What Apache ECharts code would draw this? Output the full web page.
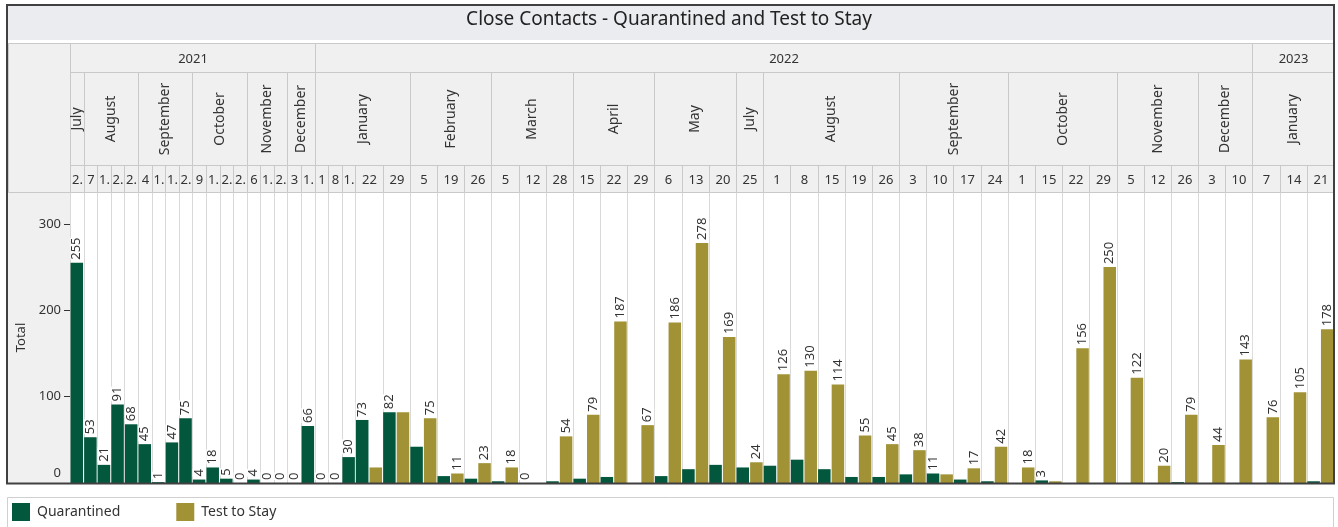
<!DOCTYPE html>
<html>
<head>
<meta charset="utf-8">
<script src="https://cdn.jsdelivr.net/npm/echarts@6/dist/echarts.min.js"></script>
<style>
html,body{margin:0;padding:0;background:#fff}
#main{width:1338px;height:527px}
</style>
</head>
<body>
<div id="main"></div>
<script>
// months shown in the header, with their year and how many weeks each holds
var monthNames = ['July','August','September','October','November','December',
  'January','February','March','April','May','July','August','September','October','November','December',
  'January'];
var monthYears = [2021,2021,2021,2021,2021,2021,
  2022,2022,2022,2022,2022,2022,2022,2022,2022,2022,2022,
  2023];
var monthWeeks = [1,4,4,4,3,2, 5,3,3,3,3,1,5,4,4,3,2, 3];

// week labels as shown (narrow columns are cut off)
var weekLabels = ['2.',
  '7','1.','2.','2.',
  '4','1.','1.','2.',
  '9','1.','2.','2.',
  '6','1.','2.',
  '3','1.',
  '1','8','1.','22','29',
  '5','19','26',
  '5','12','28',
  '15','22','29',
  '6','13','20',
  '25',
  '1','8','15','19','26',
  '3','10','17','24',
  '1','15','22','29',
  '5','12','26',
  '3','10',
  '7','14','21'];

var quarantined = [255,
  53,21,91,68,
  45,1,47,75,
  4,18,5,0,
  4,0,0,
  0,66,
  0,0,30,73,82,
  42,8,5,
  2,0,2,
  5,7,0,
  8,16,21,
  18,
  20,27,16,7,7,
  10,11,4,2,
  0,3,0,0,
  0,0,1,
  0,0,
  0,0,2];

var testToStay = [null,
  null,null,null,null,
  null,null,null,null,
  null,null,null,null,
  null,null,null,
  null,null,
  null,null,null,18,82,
  75,11,23,
  18,0,54,
  79,187,67,
  186,278,169,
  24,
  126,130,114,55,45,
  38,10,17,42,
  18,2,156,250,
  122,20,79,
  44,143,
  76,105,178];

var colorQ = '#03573c', colorT = '#a29236';
var fontName = '"Noto Sans", "Open Sans", sans-serif';

// each week takes one slot (Quarantined only) or two slots (both series)
var weekStart = [], weekSlots = [], slotCount = 0;
for (var i = 0; i < weekLabels.length; i++) {
  var n = testToStay[i] === null ? 1 : 2;
  weekStart.push(slotCount);
  weekSlots.push(n);
  slotCount += n;
}
var slotNames = [], qData = [], tData = [];
for (var s = 0; s < slotCount; s++) { slotNames.push('s' + s); qData.push(null); tData.push(null); }
var bounds = [];
for (var i = 0; i < weekLabels.length; i++) {
  var showQ = testToStay[i] === null || quarantined[i] >= testToStay[i];
  qData[weekStart[i]] = {value: quarantined[i], label: {show: showQ}};
  if (weekSlots[i] == 2) tData[weekStart[i] + 1] = {value: testToStay[i], label: {show: !showQ}};
  bounds.push([weekStart[i]]);
}
bounds.push([slotCount]);

// header cells: [x0, x1, y0, y1] in header units
var rowYear = [0, 28.5], rowMonth = [28.5, 122], rowWeek = [122, 149];
var cells = [], cellText = [], cellRot = [];
for (var i = 0; i < weekLabels.length; i++) {
  cells.push([weekStart[i], weekStart[i] + weekSlots[i], rowWeek[0], rowWeek[1]]);
  cellText.push(weekLabels[i]); cellRot.push(0);
}
var w = 0, monthStart = [], monthEnd = [];
for (var m = 0; m < monthNames.length; m++) {
  var first = w, last = w + monthWeeks[m] - 1;
  monthStart.push(weekStart[first]);
  monthEnd.push(weekStart[last] + weekSlots[last]);
  cells.push([monthStart[m], monthEnd[m], rowMonth[0], rowMonth[1]]);
  cellText.push(monthNames[m]); cellRot.push(1);
  w += monthWeeks[m];
}
var m0 = 0;
for (var m = 1; m <= monthNames.length; m++) {
  if (m == monthNames.length || monthYears[m] != monthYears[m0]) {
    cells.push([monthStart[m0], monthEnd[m - 1], rowYear[0], rowYear[1]]);
    cellText.push(String(monthYears[m0])); cellRot.push(0);
    m0 = m;
  }
}

var yMax = 337;

function renderHeader(params, api) {
  var p0 = api.coord([api.value(0), api.value(2)]);
  var p1 = api.coord([api.value(1), api.value(3)]);
  var x = Math.round(Math.min(p0[0], p1[0])) + 0.5, y = Math.round(Math.min(p0[1], p1[1])) + 0.5;
  var x2 = Math.round(Math.max(p0[0], p1[0])) + 0.5, y2 = Math.round(Math.max(p0[1], p1[1])) + 0.5;
  var i = params.dataIndex;
  return {
    type: 'group',
    children: [
      {type: 'rect', shape: {x: x, y: y, width: x2 - x, height: y2 - y},
        style: {fill: '#f0f0f0', stroke: '#c9c9c9', lineWidth: 1}},
      {type: 'text', x: (x + x2) / 2, y: (y + y2) / 2 + (cellRot[i] ? 0 : 1),
        rotation: cellRot[i] ? Math.PI / 2 : 0,
        style: {text: cellText[i], fill: '#333', font: (cellRot[i] ? '14px ' : '13px ') + fontName,
          align: 'center', verticalAlign: 'middle'}}
    ]
  };
}

function renderSep(params, api) {
  var p0 = api.coord([api.value(0), 0]);
  var p1 = api.coord([api.value(0), yMax]);
  var x = Math.round(p0[0]) + 0.5;
  return {type: 'line', shape: {x1: x, y1: p1[1], x2: x, y2: p0[1]},
    style: {stroke: '#d9d9d9', lineWidth: 1}};
}

var myChart = echarts.init(document.getElementById('main'));
var barLabel = {
  position: 'top', rotate: 90, align: 'left', verticalAlign: 'middle', distance: 3,
  fontSize: 13, fontFamily: fontName, color: '#333', backgroundColor: '#fff',
  formatter: '{c}'
};
var option = {
  animation: false,
  textStyle: {fontFamily: fontName},
  graphic: [
    {type: 'rect', z: -10, shape: {x: 7, y: 5, width: 1327, height: 479}, style: {fill: '#f0f0f0'}},
    {type: 'rect', z: -9, shape: {x: 8, y: 6, width: 1325, height: 34}, style: {fill: '#ebecf0'}},
    {type: 'rect', z: -9, shape: {x: 8, y: 40, width: 1325, height: 3}, style: {fill: '#fff'}},
    {type: 'rect', z: -8, shape: {x: 8.5, y: 43.5, width: 62, height: 149}, style: {fill: '#f0f0f0', stroke: '#c9c9c9'}},
    {type: 'text', z: 5, left: 'center', top: 10,
      style: {text: 'Close Contacts - Quarantined and Test to Stay', font: '19px ' + fontName, fill: '#222'}},
    {type: 'rect', z: 50, shape: {x: 7, y: 5, width: 1327, height: 478.5},
      style: {fill: 'none', stroke: '#404040', lineWidth: 2}},
    {type: 'rect', z: -10, shape: {x: 7.5, y: 497.5, width: 1326, height: 32},
      style: {fill: '#fff', stroke: '#d0d0d0', lineWidth: 1}}
  ],
  legend: {
    left: 12, top: 503, padding: 0, itemWidth: 18, itemHeight: 18, itemGap: 56,
    icon: 'rect', textStyle: {fontSize: 14, color: '#333', fontFamily: fontName, padding: [0, 0, 0, 2]},
    data: ['Quarantined', 'Test to Stay']
  },
  grid: [
    {left: 70, right: 4, top: 43, height: 149},
    {left: 70, right: 4, top: 192, bottom: 44, show: true, backgroundColor: '#fff', borderWidth: 0}
  ],
  xAxis: [
    {gridIndex: 0, type: 'value', min: 0, max: slotCount, show: false},
    {gridIndex: 1, type: 'category', data: slotNames, show: false},
    {gridIndex: 1, type: 'value', min: 0, max: slotCount, show: false}
  ],
  yAxis: [
    {gridIndex: 0, type: 'value', min: 0, max: 149, inverse: true, show: false},
    {gridIndex: 1, type: 'value', min: 0, max: yMax, interval: 100,
      name: 'Total', nameLocation: 'middle', nameGap: 42, nameRotate: 90,
      nameTextStyle: {fontSize: 13, color: '#333'},
      axisLine: {show: false},
      axisTick: {show: true, length: 6, lineStyle: {color: '#333'}},
      axisLabel: {fontSize: 13, color: '#333', margin: 9, showMaxLabel: false,
        formatter: function (v) { return v === 0 ? '{z|0}' : String(v); },
        rich: {z: {fontSize: 13, color: '#333', padding: [0, 0, 20, 0]}}},
      splitLine: {show: false}}
  ],
  series: [
    {type: 'custom', name: 'header', xAxisIndex: 0, yAxisIndex: 0, silent: true,
      renderItem: renderHeader, data: cells, encode: {x: [0, 1], y: [2, 3]}, clip: false},
    {type: 'custom', name: 'sep', xAxisIndex: 2, yAxisIndex: 1, silent: true, z: 1,
      renderItem: renderSep, data: bounds, encode: {x: 0}},
    {type: 'bar', name: 'Quarantined', xAxisIndex: 1, yAxisIndex: 1, data: qData,
      barGap: '-100%', barCategoryGap: '8%', itemStyle: {color: colorQ},
      label: barLabel},
    {type: 'bar', name: 'Test to Stay', xAxisIndex: 1, yAxisIndex: 1, data: tData,
      barGap: '-100%', barCategoryGap: '8%', itemStyle: {color: colorT},
      label: barLabel}
  ]
};
myChart.setOption(option);
</script>
</body>
</html>
